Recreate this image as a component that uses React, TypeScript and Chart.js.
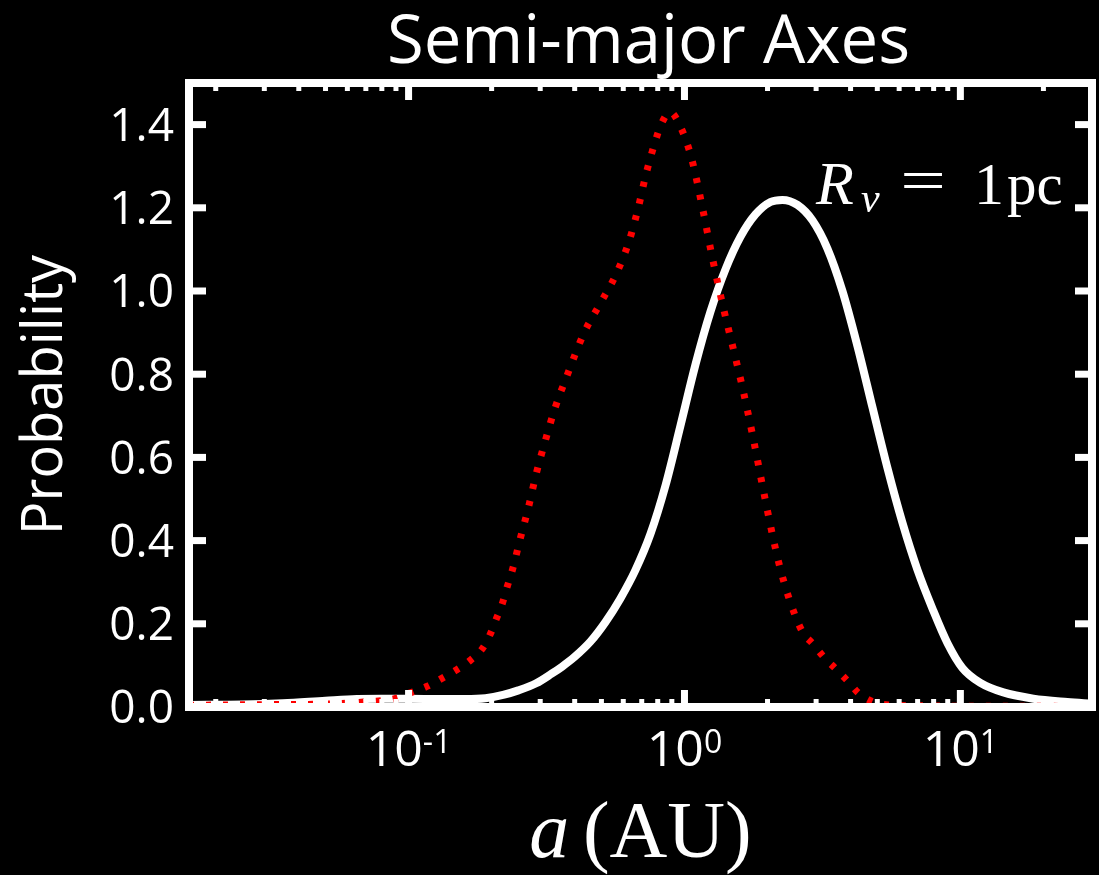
import React, { useEffect, useRef } from 'react';
import { Chart, registerables } from 'chart.js';

Chart.register(...registerables);

// ---- data ----
const whiteA = [0.016, 0.025, 0.035, 0.05, 0.065, 0.08, 0.1, 0.13, 0.16, 0.19, 0.22, 0.25, 0.29, 0.33, 0.36, 0.399, 0.456, 0.517, 0.586, 0.664, 0.753, 0.854, 0.967, 1.096, 1.242, 1.408, 1.595, 1.808, 2.049, 2.265, 2.567, 2.909, 3.297, 3.737, 4.235, 4.799, 5.439, 6.165, 6.987, 7.918, 8.973, 10.17, 11.82, 14.32, 18.39, 24.42, 30];
const whiteP = [0.005, 0.006, 0.009, 0.015, 0.019, 0.02, 0.02, 0.019, 0.019, 0.021, 0.029, 0.04, 0.057, 0.08, 0.097, 0.12, 0.157, 0.204, 0.261, 0.329, 0.416, 0.533, 0.676, 0.823, 0.95, 1.052, 1.13, 1.184, 1.214, 1.219, 1.207, 1.17, 1.102, 1.0, 0.868, 0.721, 0.575, 0.443, 0.33, 0.237, 0.154, 0.094, 0.058, 0.035, 0.02, 0.012, 0.008];

const redA = [0.016, 0.034, 0.0514, 0.0687, 0.0905, 0.1017, 0.117, 0.133, 0.149, 0.168, 0.185, 0.198, 0.208, 0.219, 0.228, 0.238, 0.254, 0.272, 0.29, 0.313, 0.34, 0.372, 0.433, 0.495, 0.565, 0.63, 0.68, 0.725, 0.776, 0.823, 0.887, 0.967, 1.06, 1.162, 1.262, 1.383, 1.517, 1.62, 1.77, 1.92, 2.09, 2.22, 2.41, 2.68, 2.92, 3.2, 3.53, 3.9, 4.28, 4.84, 5.5, 7, 10, 15, 30];
const redP = [0.004, 0.006, 0.007, 0.012, 0.021, 0.034, 0.05, 0.07, 0.089, 0.113, 0.14, 0.176, 0.212, 0.25, 0.29, 0.33, 0.405, 0.48, 0.56, 0.64, 0.72, 0.79, 0.9, 0.97, 1.04, 1.12, 1.2, 1.28, 1.35, 1.4, 1.43, 1.395, 1.32, 1.2, 1.08, 0.96, 0.85, 0.77, 0.65, 0.53, 0.41, 0.335, 0.255, 0.18, 0.152, 0.12, 0.092, 0.063, 0.033, 0.012, 0.005, 0.003, 0.002, 0.002, 0.001];

const yTicks = [0, 0.2, 0.4, 0.6, 0.8, 1.0, 1.2, 1.4];
const yTickLabels = ['0.0', '0.2', '0.4', '0.6', '0.8', '1.0', '1.2', '1.4'];
const xMajor = [0.1, 1, 10];
const xMajorBase = ['10', '10', '10'];
const xMajorExp = ['-1', '0', '1'];
const xMinor = [0.02, 0.03, 0.04, 0.05, 0.06, 0.07, 0.08, 0.09, 0.2, 0.3, 0.4, 0.5, 0.6, 0.7, 0.8, 0.9, 2, 3, 4, 5, 6, 7, 8, 9, 20];

const X_MIN = 0.016;
const X_MAX = 30;
const Y_MIN = 0;
const Y_MAX = 1.5;

const TITLE = 'Semi-major Axes';
const Y_LABEL = 'Probability';

const SANS = '"Open Sans", "DejaVu Sans", sans-serif';
const SERIF = '"Liberation Serif", "Times New Roman", serif';

const decorPlugin = {
  id: 'decor',
  afterDatasetsDraw(chart: any) {
    const { ctx, chartArea: a, scales } = chart;
    const x = scales.x;
    const y = scales.y;
    ctx.save();
    ctx.fillStyle = '#fff';
    ctx.strokeStyle = '#fff';

    // ticks (inward, all four sides)
    const majL = 17, majW = 7, minL = 8, minW = 5;
    for (const v of xMajor) {
      const px = x.getPixelForValue(v);
      ctx.fillRect(px - majW / 2, a.bottom - majL, majW, majL);
      ctx.fillRect(px - majW / 2, a.top, majW, majL);
    }
    for (const v of xMinor) {
      if (v <= X_MIN || v >= X_MAX) continue;
      const px = x.getPixelForValue(v);
      ctx.fillRect(px - minW / 2, a.bottom - minL, minW, minL);
      ctx.fillRect(px - minW / 2, a.top, minW, minL);
    }
    for (const v of yTicks) {
      const py = y.getPixelForValue(v);
      ctx.fillRect(a.left, py - majW / 2, majL, majW);
      ctx.fillRect(a.right - majL, py - majW / 2, majL, majW);
    }

    // frame
    ctx.lineWidth = 8;
    ctx.strokeRect(a.left, a.top, a.right - a.left, a.bottom - a.top);

    // y tick labels
    const yFont = 46;
    ctx.font = `${yFont}px ${SANS}`;
    ctx.textAlign = 'right';
    ctx.textBaseline = 'alphabetic';
    yTicks.forEach((v, i) => {
      const py = y.getPixelForValue(v);
      ctx.fillText(yTickLabels[i], a.left - 15, py + yFont * 0.714 / 2);
    });

    // x tick labels 10^k
    ctx.textAlign = 'left';
    xMajor.forEach((v, i) => {
      const px = x.getPixelForValue(v);
      ctx.font = `50px ${SANS}`;
      const w1 = ctx.measureText(xMajorBase[i]).width;
      ctx.font = `32px ${SANS}`;
      const w2 = ctx.measureText(xMajorExp[i]).width;
      const start = px - (w1 + w2) / 2;
      ctx.font = `50px ${SANS}`;
      ctx.fillText(xMajorBase[i], start, a.bottom + 59);
      ctx.font = `32px ${SANS}`;
      ctx.fillText(xMajorExp[i], start + w1, a.bottom + 46);
    });

    // title
    ctx.textAlign = 'center';
    ctx.font = `67px ${SANS}`;
    ctx.fillText(TITLE, (a.left + a.right) / 2 + 8, 63);

    // y label
    ctx.save();
    ctx.translate(62, (a.top + a.bottom) / 2);
    ctx.rotate(-Math.PI / 2);
    ctx.font = `56px ${SANS}`;
    ctx.textAlign = 'center';
    ctx.fillText(Y_LABEL, 0, 0);
    ctx.restore();

    // x label: a (AU)
    {
      const fs = 80;
      ctx.textAlign = 'left';
      ctx.font = `italic ${fs}px ${SERIF}`;
      const wa = ctx.measureText('a').width;
      ctx.font = `${fs}px ${SERIF}`;
      const wr = ctx.measureText('(AU)').width;
      const gap = fs * 0.17;
      const total = wa + gap + wr;
      const sx = (a.left + a.right) / 2 - total / 2;
      const by = a.bottom + 150;
      ctx.font = `italic ${fs}px ${SERIF}`;
      ctx.fillText('a', sx, by);
      ctx.font = `${fs}px ${SERIF}`;
      ctx.fillText('(AU)', sx + wa + gap, by);
    }

    // annotation R_v = 1 pc
    {
      const by = 204;
      ctx.textAlign = 'left';
      ctx.font = `italic 62px ${SERIF}`;
      ctx.fillText('R', 816, by);
      ctx.font = `italic 42px ${SERIF}`;
      ctx.fillText('v', 861, by + 8);
      ctx.save();
      ctx.translate(923, by - 4);
      ctx.scale(1.35, 1);
      ctx.textAlign = 'center';
      ctx.font = `60px ${SERIF}`;
      ctx.fillText('=', 0, 0);
      ctx.restore();
      ctx.textAlign = 'center';
      ctx.font = `60px ${SERIF}`;
      ctx.fillText('1', 989, by);
      ctx.textAlign = 'left';
      ctx.font = `59px ${SERIF}`;
      ctx.fillText('pc', 1007, by);
    }

    ctx.restore();
  },
};

export default function App() {
  const ref = useRef<HTMLCanvasElement | null>(null);

  useEffect(() => {
    if (!ref.current) return;
    const whiteData = whiteA.map((a, i) => ({ x: a, y: whiteP[i] }));
    const redData = redA.map((a, i) => ({ x: a, y: redP[i] }));
    const chart = new Chart(ref.current, {
      type: 'line',
      data: {
        datasets: [
          {
            label: 'dotted',
            data: redData,
            borderColor: '#ff0000',
            borderWidth: 7,
            borderDash: [5, 12],
            borderCapStyle: 'butt',
            pointRadius: 0,
            cubicInterpolationMode: 'monotone',
            fill: false,
          },
          {
            label: 'Rv = 1 pc',
            data: whiteData,
            borderColor: '#ffffff',
            borderWidth: 8,
            pointRadius: 0,
            cubicInterpolationMode: 'monotone',
            fill: false,
          },
        ],
      },
      options: {
        animation: false,
        responsive: false,
        devicePixelRatio: 1,
        events: [],
        layout: { padding: { top: 83, right: 7, left: 0, bottom: 0 } },
        plugins: {
          legend: { display: false },
          tooltip: { enabled: false },
          title: { display: false },
        },
        scales: {
          x: {
            type: 'logarithmic',
            min: X_MIN,
            max: X_MAX,
            grid: { display: false },
            border: { display: false },
            ticks: { display: false },
            afterFit: (s: any) => {
              s.height = 168;
            },
          },
          y: {
            type: 'linear',
            min: Y_MIN,
            max: Y_MAX,
            grid: { display: false },
            border: { display: false },
            ticks: { display: false },
            afterFit: (s: any) => {
              s.width = 189;
            },
          },
        },
      },
      plugins: [decorPlugin],
    } as any);
    return () => chart.destroy();
  }, []);

  return (
    <div style={{ position: 'absolute', left: 0, top: 0, width: 1099, height: 875, background: '#000' }}>
      <canvas ref={ref} width={1099} height={875} style={{ width: 1099, height: 875, display: 'block' }} />
    </div>
  );
}
